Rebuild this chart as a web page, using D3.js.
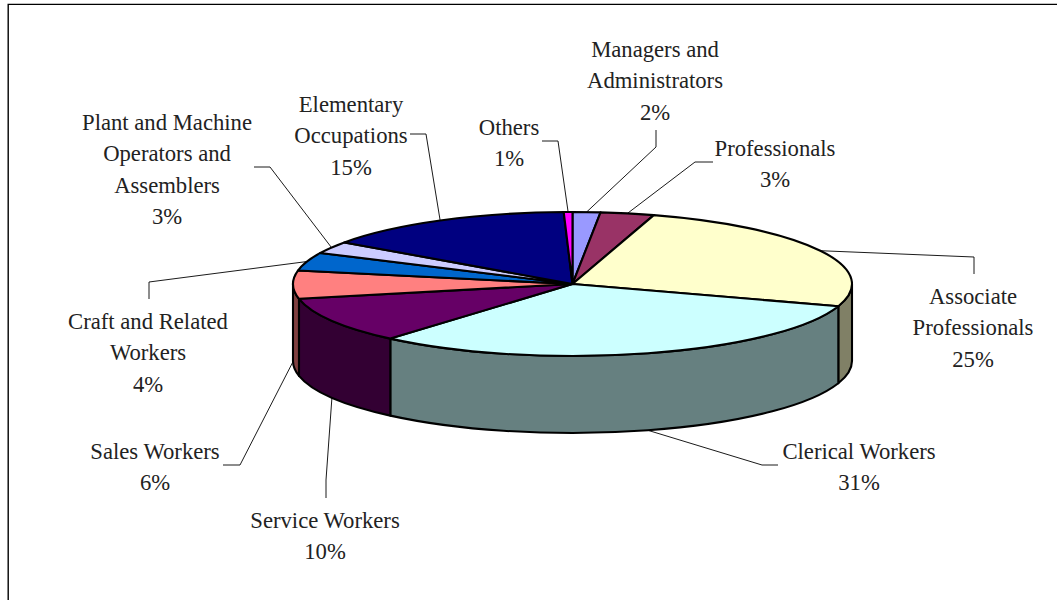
<!DOCTYPE html>
<html>
<head>
<meta charset="utf-8">
<script src="https://cdn.jsdelivr.net/npm/d3@7"></script>
<style>
    html, body { margin: 0; padding: 0; background: #fff; overflow: hidden; }
    svg { display: block; }
</style>
</head>
<body>
<svg id="chart"></svg>
<script>
// clockwise from the top of the pie
const occupations = ["Managers and Administrators", "Professionals", "Associate Professionals", "Clerical Workers", "Service Workers", "Sales Workers", "Craft and Related Workers", "Plant and Machine Operators and Assemblers", "Elementary Occupations", "Others"];
const shares = [1.6, 3.1, 25.3, 31.3, 10.4, 6.3, 4.1, 2.7, 14.7, 0.5];
const topColors = ["#9999ff", "#993366", "#ffffcc", "#ccffff", "#660066", "#ff8080", "#0066cc", "#ccccff", "#000080", "#ff00ff"];
const labelLines = [
    ["Managers and", "Administrators"],
    ["Professionals"],
    ["Associate", "Professionals"],
    ["Clerical Workers"],
    ["Service Workers"],
    ["Sales Workers"],
    ["Craft and Related", "Workers"],
    ["Plant and Machine", "Operators and", "Assemblers"],
    ["Elementary", "Occupations"],
    ["Others"]
];

// label centre x, first baseline y, and the leader line's free end + elbow
const labelLayout = [
    { x: 655, y: 57, from: [656, 130], elbow: [656, 147] },
    { x: 775, y: 156, from: [713, 162], elbow: [695, 162] },
    { x: 973, y: 304, from: [974, 274], elbow: [974, 257] },
    { x: 859, y: 459, from: [778, 465], elbow: [762, 465] },
    { x: 325, y: 528, from: [326, 498], elbow: [326, 480] },
    { x: 155, y: 459, from: [223, 465], elbow: [240, 465] },
    { x: 148, y: 329, from: [149, 299], elbow: [149, 282] },
    { x: 167, y: 130, from: [254, 167], elbow: [270, 167] },
    { x: 351, y: 112, from: [410, 134], elbow: [426, 134] },
    { x: 509, y: 135, from: [542, 141], elbow: [558, 141] }
];

const width = 1057;
const height = 600;
const cx = 572.5;
const cy = 284;
const rx = 279.5;
const ry = 72;
const depth = 77;
const lineHeight = 31.3;

const svg = d3.select("#chart")
    .attr("width", width)
    .attr("height", height);

svg.append("rect")
    .attr("width", width)
    .attr("height", height)
    .attr("fill", "#fff");

// chart frame runs off the right and bottom of the picture
svg.append("path")
    .attr("d", `M${width},4.4H8.2V${height}`)
    .attr("fill", "none")
    .attr("stroke", "#000")
    .attr("stroke-width", 1.4);

const pie = d3.pie().sort(null).value(d => d);
const slices = pie(shares);

function ellipsePoint(t, dy = 0) {
    return [cx + rx * Math.sin(t), cy - ry * Math.cos(t) + dy];
}

function arcTo(t0, t1, dy, sweep) {
    const p = ellipsePoint(t1, dy);
    const large = Math.abs(t1 - t0) > Math.PI ? 1 : 0;
    return `A${rx},${ry} 0 ${large} ${sweep} ${p[0]},${p[1]}`;
}

function topPath(d) {
    const start = ellipsePoint(d.startAngle);
    return `M${cx},${cy}L${start[0]},${start[1]}` + arcTo(d.startAngle, d.endAngle, 0, 1) + "Z";
}

function sidePath(t0, t1) {
    const a = ellipsePoint(t0);
    const b = ellipsePoint(t1, depth);
    return `M${a[0]},${a[1]}` + arcTo(t0, t1, 0, 1) + `L${b[0]},${b[1]}` + arcTo(t1, t0, depth, 0) + "Z";
}

// rim is the top colour at half brightness
function shade(color) {
    const c = d3.rgb(color);
    return d3.rgb(c.r / 2, c.g / 2, c.b / 2);
}

// only the front half of the rim can be seen
const sides = slices
    .map((d, i) => ({
        t0: Math.max(d.startAngle, Math.PI / 2),
        t1: Math.min(d.endAngle, 3 * Math.PI / 2),
        color: shade(topColors[i])
    }))
    .filter(d => d.t1 > d.t0);

svg.append("g")
    .selectAll("path")
    .data(sides)
    .join("path")
    .attr("d", d => sidePath(d.t0, d.t1))
    .attr("fill", d => d.color)
    .attr("stroke", "#000")
    .attr("stroke-width", 2.1)
    .attr("stroke-linejoin", "round");

// leader lines, drawn under the pie top so they stop at its edge
function leaderEnd(d) {
    const mid = (d.startAngle + d.endAngle) / 2;
    const front = mid > Math.PI / 2 && mid < 3 * Math.PI / 2;
    return ellipsePoint(mid, front ? depth : 0);
}

svg.append("g")
    .selectAll("path")
    .data(slices)
    .join("path")
    .attr("d", (d, i) => d3.line()([labelLayout[i].from, labelLayout[i].elbow, leaderEnd(d)]))
    .attr("fill", "none")
    .attr("stroke", "#000")
    .attr("stroke-width", 0.9);

svg.append("g")
    .selectAll("path")
    .data(slices)
    .join("path")
    .attr("d", topPath)
    .attr("fill", (d, i) => topColors[i])
    .attr("stroke", "#000")
    .attr("stroke-width", 2.1)
    .attr("stroke-linejoin", "round");

// the original face is tall and narrow, so squeeze a larger size sideways
const labels = svg.append("g")
    .attr("font-family", "'Liberation Serif', serif")
    .attr("font-size", 24)
    .attr("fill", "#222")
    .attr("text-anchor", "middle")
    .selectAll("text")
    .data(slices)
    .join("text")
    .attr("aria-label", (d, i) => occupations[i])
    .attr("transform", (d, i) => `translate(${labelLayout[i].x},0) scale(0.945,1)`);

labels.each(function (d, i) {
    const rows = labelLines[i].concat(Math.round(d.data) + "%");
    d3.select(this)
        .selectAll("tspan")
        .data(rows)
        .join("tspan")
        .attr("x", 0)
        .attr("y", (row, j) => labelLayout[i].y + j * lineHeight)
        .text(row => row);
});
</script>
</body>
</html>
